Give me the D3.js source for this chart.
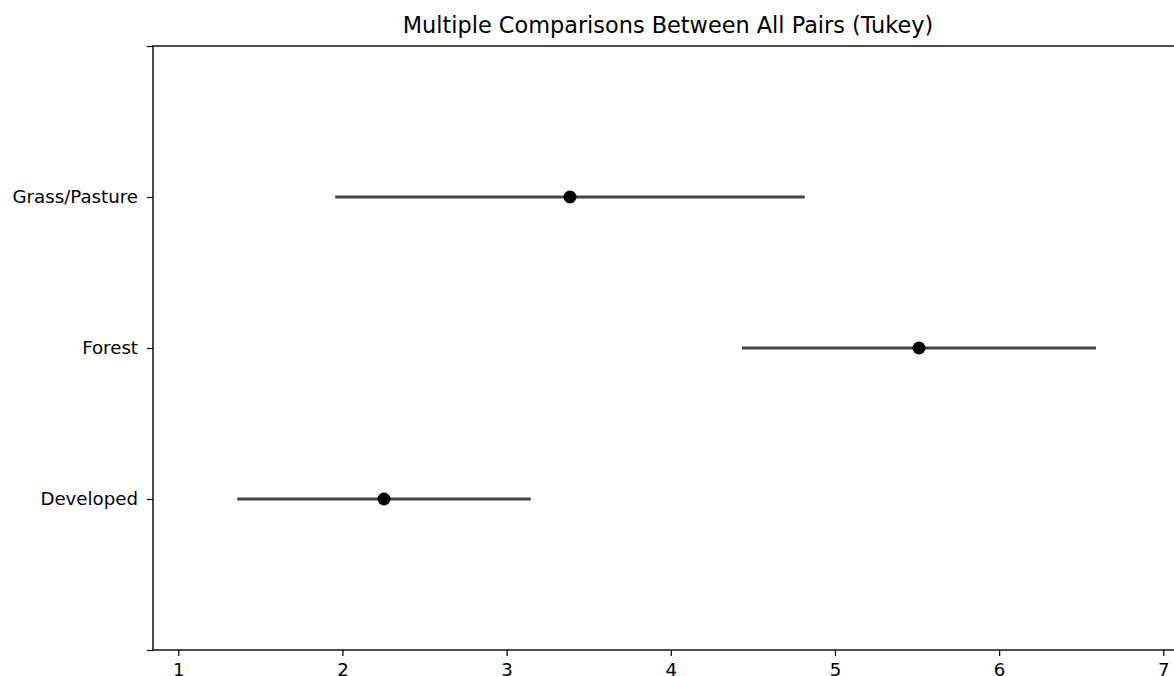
<!DOCTYPE html>
<html>
<head>
<meta charset="utf-8">
<script src="https://cdn.jsdelivr.net/npm/d3@7"></script>
<style>
  body { margin: 0; background: #fff; }
  text { font-family: "DejaVu Sans", sans-serif; fill: #000; }
</style>
</head>
<body>
<script>
var w = 1174; // width of SVG space
var h = 676;  // height of SVG space

// groups from bottom to top, with Tukey mean and interval half-width
var groups = ["Developed", "Forest", "Grass/Pasture"];
var means = [2.253, 5.512, 3.386];
var halfWidths = [0.894, 1.078, 1.43];
var xTicks = [1, 2, 3, 4, 5, 6, 7];

var padL = 153, padR = 1183, padT = 46, padB = 650; // axes box

var svg = d3.select("body").append("svg").attr("width", w).attr("height", h);

var x = d3.scaleLinear().domain([1, 7]).range([178.3, 1163.3]);
var y = d3.scaleLinear().domain([-1, groups.length]).range([padB, padT]);

// spines
svg.append("rect").attr("x", padL).attr("y", padT)
    .attr("width", padR - padL).attr("height", padB - padT)
    .attr("fill", "none").attr("stroke", "#000").attr("stroke-width", 1.4);

// x axis
var xAxis = svg.append("g").attr("transform", "translate(0," + padB + ")")
    .call(d3.axisBottom(x).tickValues(xTicks).tickFormat(d3.format("d")).tickSize(6).tickPadding(7));
xAxis.select(".domain").remove();
xAxis.selectAll("line").attr("stroke", "#000").attr("stroke-width", 1.2);
xAxis.selectAll("text").style("font-size", "18.2px").attr("font-family", "DejaVu Sans").attr("fill", "#222");

// y axis: ticks at -1..n, labels only at group positions
var yTicks = d3.range(-1, groups.length + 1);
var yAxis = svg.append("g").attr("transform", "translate(" + padL + ",0)")
    .call(d3.axisLeft(y).tickValues(yTicks).tickSize(6).tickPadding(9)
        .tickFormat(function (d) { return groups[d] || ""; }));
yAxis.select(".domain").remove();
yAxis.selectAll("line").attr("stroke", "#000").attr("stroke-width", 1.2);
yAxis.selectAll("text").style("font-size", "18.2px").attr("font-family", "DejaVu Sans").attr("fill", "#222");

// interval lines
svg.selectAll("line.ci").data(groups).enter().append("line")
    .attr("class", "ci")
    .attr("x1", function (d, i) { return x(means[i] - halfWidths[i]); })
    .attr("x2", function (d, i) { return x(means[i] + halfWidths[i]); })
    .attr("y1", function (d, i) { return y(i); })
    .attr("y2", function (d, i) { return y(i); })
    .attr("stroke", "#444").attr("stroke-width", 3);

// mean markers
svg.selectAll("circle").data(groups).enter().append("circle")
    .attr("cx", function (d, i) { return x(means[i]); })
    .attr("cy", function (d, i) { return y(i); })
    .attr("r", 6.5).attr("fill", "#000");

// title
svg.append("text").attr("x", (padL + padR) / 2).attr("y", 33)
    .attr("text-anchor", "middle").style("font-size", "22.4px").attr("fill", "#222")
    .text("Multiple Comparisons Between All Pairs (Tukey)");
</script>
</body>
</html>
